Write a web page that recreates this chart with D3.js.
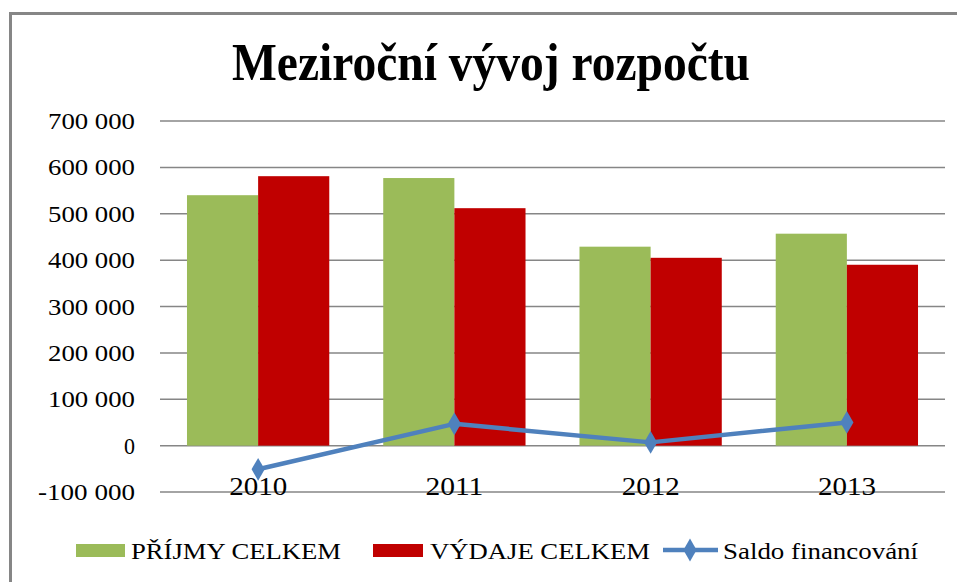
<!DOCTYPE html>
<html>
<head>
<meta charset="utf-8">
<script src="https://cdn.jsdelivr.net/npm/d3@7"></script>
<style>
  body { margin: 0; background: #fff; }
  svg text { font-family: "Liberation Serif", "DejaVu Serif", serif; fill: #000; }
</style>
</head>
<body>
<svg width="957" height="582"></svg>
<script>
var years = ["2010", "2011", "2012", "2013"];
var prijmy = [540000, 577000, 429000, 457000];
var vydaje = [581000, 512000, 405000, 390000];
var saldo = [-51000, 47000, 7000, 50000];
var yTicks = [-100000, 0, 100000, 200000, 300000, 400000, 500000, 600000, 700000];

var svg = d3.select("svg");
var margin = { top: 121, right: 12, bottom: 90, left: 160 };
var width = 945 - margin.left;
var height = 492 - margin.top;

var green = "#9bbb59", red = "#c00000", blue = "#4f81bd", grid = "#868686";
var serif = "'Liberation Serif', 'DejaVu Serif', serif";

// chart border (left and top only visible)
svg.append("path")
  .attr("d", "M10.5,600V13.5H960")
  .attr("fill", "none")
  .attr("stroke", grid)
  .attr("stroke-width", 3);

svg.append("text")
  .attr("x", 491).attr("y", 80)
  .attr("text-anchor", "middle")
  .attr("font-family", serif)
  .attr("font-size", 53).attr("font-weight", "bold")
  .attr("textLength", 518).attr("lengthAdjust", "spacingAndGlyphs")
  .text("Meziroční vývoj rozpočtu");

var x0 = d3.scaleBand().domain(years).range([0, width]).paddingInner(0.275).paddingOuter(0.1375);
var x1 = d3.scaleBand().domain(["p", "v"]).range([0, x0.bandwidth()]);
var y = d3.scaleLinear().domain([-100000, 700000]).range([height, 0]);

var g = svg.append("g")
  .attr("transform", "translate(" + margin.left + "," + margin.top + ")");

var locale = d3.formatLocale({ decimal: ",", thousands: " ", grouping: [3], currency: ["", ""], minus: "-" });
var fmt = locale.format(",");

// gridlines
g.append("g").selectAll("line")
  .data(yTicks)
  .enter().append("line")
    .attr("x1", 0).attr("x2", width)
    .attr("y1", function(d) { return y(d); })
    .attr("y2", function(d) { return y(d); })
    .attr("stroke", grid).attr("stroke-width", 1.5);

// y labels
g.append("g").selectAll("text")
  .data(yTicks)
  .enter().append("text")
    .attr("x", -25)
    .attr("y", function(d) { return y(d); })
    .attr("dy", "0.35em")
    .attr("text-anchor", "end")
    .attr("font-family", serif)
    .attr("font-size", 23)
    .attr("textLength", function(d) { return d === 0 ? 11 : (d < 0 ? 97 : 87); })
    .attr("lengthAdjust", "spacingAndGlyphs")
    .text(fmt);

// bars
var groups = g.append("g").selectAll("g")
  .data(years)
  .enter().append("g")
    .attr("transform", function(d) { return "translate(" + x0(d) + ",0)"; });

groups.append("rect")
  .attr("x", x1("p")).attr("width", x1.bandwidth())
  .attr("y", function(d, i) { return y(prijmy[i]); })
  .attr("height", function(d, i) { return y(0) - y(prijmy[i]); })
  .attr("fill", green);

groups.append("rect")
  .attr("x", x1("v")).attr("width", x1.bandwidth())
  .attr("y", function(d, i) { return y(vydaje[i]); })
  .attr("height", function(d, i) { return y(0) - y(vydaje[i]); })
  .attr("fill", red);

// x labels
g.append("g").selectAll("text")
  .data(years)
  .enter().append("text")
    .attr("x", function(d) { return x0(d) + x0.bandwidth() / 2; })
    .attr("y", height + 3)
    .attr("text-anchor", "middle")
    .attr("font-family", serif)
    .attr("font-size", 25)
    .attr("textLength", 58).attr("lengthAdjust", "spacingAndGlyphs")
    .text(function(d) { return d; });

// saldo line
var cx = function(d, i) { return x0(years[i]) + x0.bandwidth() / 2; };
var line = d3.line()
  .x(cx)
  .y(function(d) { return y(d); });

g.append("path")
  .datum(saldo)
  .attr("d", line)
  .attr("fill", "none")
  .attr("stroke", blue)
  .attr("stroke-width", 4.5)
  .attr("stroke-linejoin", "round");

var diamond = d3.symbol().type(d3.symbolDiamond).size(150);
g.append("g").selectAll("path")
  .data(saldo)
  .enter().append("path")
    .attr("transform", function(d, i) { return "translate(" + cx(d, i) + "," + y(d) + ")"; })
    .attr("d", diamond)
    .attr("fill", blue);

// legend
var legend = svg.append("g").attr("font-family", serif);
legend.append("rect").attr("x", 76).attr("y", 544).attr("width", 49).attr("height", 13).attr("fill", green);
legend.append("text").attr("x", 131).attr("y", 559).attr("font-size", 24).attr("font-family", serif)
  .attr("textLength", 210).attr("lengthAdjust", "spacingAndGlyphs").text("PŘÍJMY CELKEM");
legend.append("rect").attr("x", 373).attr("y", 544).attr("width", 50).attr("height", 13).attr("fill", red);
legend.append("text").attr("x", 430).attr("y", 559).attr("font-size", 24).attr("font-family", serif)
  .attr("textLength", 220).attr("lengthAdjust", "spacingAndGlyphs").text("VÝDAJE CELKEM");
legend.append("line").attr("x1", 663).attr("x2", 718).attr("y1", 550).attr("y2", 550)
  .attr("stroke", blue).attr("stroke-width", 4.5);
legend.append("path").attr("transform", "translate(690,550)").attr("d", diamond).attr("fill", blue);
legend.append("text").attr("x", 723).attr("y", 559).attr("font-size", 24).attr("font-family", serif)
  .attr("textLength", 195).attr("lengthAdjust", "spacingAndGlyphs").text("Saldo financování");
</script>
</body>
</html>
